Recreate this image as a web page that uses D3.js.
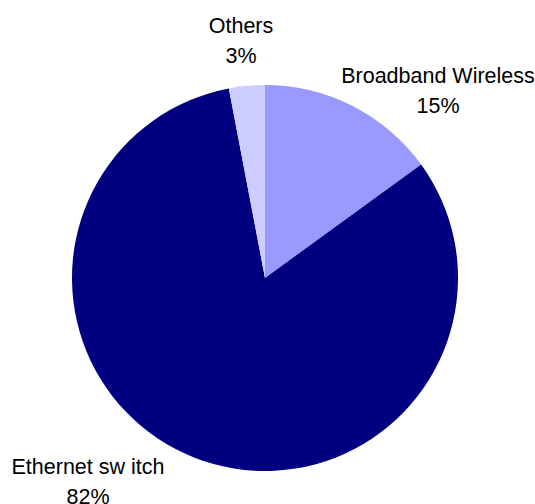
<!DOCTYPE html>
<html>
<head>
<meta charset="utf-8">
<script src="https://cdn.jsdelivr.net/npm/d3@7"></script>
<style>
  body { margin: 0; background: #fff; }
  text { font-family: "Liberation Sans", Arial, sans-serif; fill: #000; }
</style>
</head>
<body>
<svg id="chart" width="535" height="504"></svg>
<script>
// slice data, clockwise from 12 o'clock
const categories = ['Broadband Wireless', 'Ethernet sw itch', 'Others'];
const shares = [15, 82, 3];
const sliceColors = ['#9999ff', '#000080', '#ccccff'];

const svg = d3.select('#chart');
const cx = 265, cy = 278, radius = 193;

const pie = d3.pie().sort(null).value(d => d.value);
const arcs = pie(categories.map((c, i) => ({ name: c, value: shares[i], color: sliceColors[i] })));

const arc = d3.arc().innerRadius(0).outerRadius(radius);

const g = svg.append('g').attr('transform', `translate(${cx},${cy})`);

g.selectAll('path')
  .data(arcs)
  .join('path')
  .attr('d', arc)
  .attr('fill', d => d.data.color);

// label placement: centre x and first baseline, relative to pie centre
const labelPos = {
  'Broadband Wireless': [173, -195],
  'Ethernet sw itch': [-177, 196],
  'Others': [-24, -245]
};

const labels = svg.append('g')
  .attr('transform', `translate(${cx},${cy})`)
  .selectAll('text')
  .data(arcs)
  .join('text')
  .attr('text-anchor', 'middle')
  .style('font-size', '21.5px')
  .attr('x', d => labelPos[d.data.name][0])
  .attr('y', d => labelPos[d.data.name][1]);

labels.append('tspan')
  .attr('x', d => labelPos[d.data.name][0])
  .text(d => d.data.name);

labels.append('tspan')
  .attr('x', d => labelPos[d.data.name][0])
  .attr('dy', 30)
  .text(d => d.data.value + '%');
</script>
</body>
</html>
